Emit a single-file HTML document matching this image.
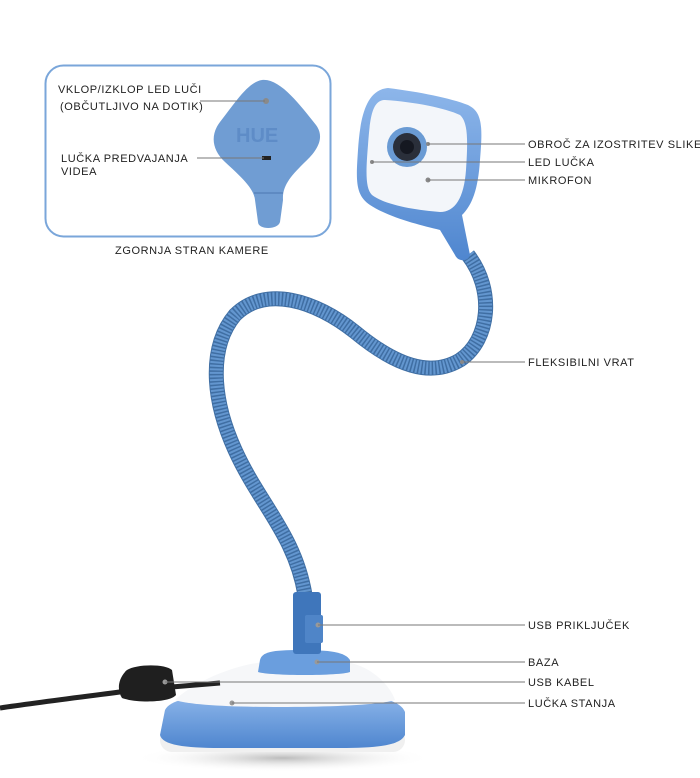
<!DOCTYPE html>
<html><head><meta charset="utf-8"><style>
body{margin:0;width:700px;height:778px;background:#fff;overflow:hidden}
svg{display:block}
text{font-family:"Liberation Sans",sans-serif;font-size:11px;fill:#222;letter-spacing:0.6px}
</style></head><body>
<svg width="700" height="778" viewBox="0 0 700 778">
<defs>
<linearGradient id="bb" x1="0" y1="0" x2="0" y2="1"><stop offset="0" stop-color="#8db6ea"/><stop offset="1" stop-color="#4f86cf"/></linearGradient>
<radialGradient id="sh" cx="0.5" cy="0.5" r="0.5"><stop offset="0" stop-color="#bbb"/><stop offset="1" stop-color="#fff" stop-opacity="0"/></radialGradient>
</defs>
<!-- inset -->
<rect x="45.5" y="65.5" width="285" height="171" rx="18" fill="#fff" stroke="#7aa6da" stroke-width="2"/>
<path d="M262 80 C280 78 300 105 316 125 C325 137 318 150 305 162 C292 175 282 185 283 200 L280 222 C278 230 258 230 258 222 L255 200 C254 188 240 176 225 162 C212 150 210 135 220 122 C235 103 248 82 262 80Z" fill="#709dd3"/>
<line x1="254" y1="193" x2="283" y2="193" stroke="#4d78b0" stroke-width="1"/>
<text x="236" y="142" style="font-size:20px;font-weight:bold;fill:#5e8cc7;letter-spacing:0">HUE</text>
<circle cx="266" cy="101" r="3" fill="#8a8a8a"/>
<rect x="262" y="156" width="9" height="4" fill="#222"/>
<text x="58" y="93">VKLOP/IZKLOP LED LUČI</text>
<text x="60" y="110">(OBČUTLJIVO NA DOTIK)</text>
<line x1="200" y1="101" x2="265" y2="101" stroke="#777"/>
<text x="61" y="162">LUČKA PREDVAJANJA</text>
<text x="61" y="175">VIDEA</text>
<line x1="197" y1="158" x2="264" y2="158" stroke="#777"/>
<text x="115" y="254">ZGORNJA STRAN KAMERE</text>
<!-- neck -->
<path d="M468 255 C495 290 490 340 460 360 C430 378 395 365 355 332 C315 300 265 285 235 315 C210 345 210 395 235 450 C260 505 295 535 305 595" fill="none" stroke="#3f6ea3" stroke-width="15"/>
<path d="M468 255 C495 290 490 340 460 360 C430 378 395 365 355 332 C315 300 265 285 235 315 C210 345 210 395 235 450 C260 505 295 535 305 595" fill="none" stroke="#6396cf" stroke-width="13" stroke-dasharray="2 1.5"/>
<!-- head -->
<path d="M388 88 C420 92 450 98 468 105 C482 112 483 125 480 160 C478 190 472 205 462 215 L470 255 C468 262 458 262 455 255 L440 230 C420 225 390 218 370 205 C355 195 356 180 358 150 C360 120 365 90 388 88Z" fill="url(#bb)"/>
<path d="M385 100 C415 102 445 108 460 115 C468 122 468 140 466 170 C464 198 455 212 440 212 C415 210 385 205 372 195 C365 188 366 170 368 145 C370 118 372 100 385 100Z" fill="#f3f6fa"/>
<circle cx="407" cy="147" r="20" fill="#6a9bd4"/>
<circle cx="407" cy="147" r="14" fill="#2a2f3a"/>
<circle cx="407" cy="147" r="7" fill="#151821"/>
<circle cx="428" cy="144" r="2" fill="#888"/>
<circle cx="372" cy="162" r="2" fill="#888"/>
<circle cx="428" cy="180" r="2.5" fill="#888"/>
<line x1="428" y1="144" x2="525" y2="144" stroke="#777"/>
<line x1="372" y1="162" x2="525" y2="162" stroke="#777"/>
<line x1="428" y1="180" x2="525" y2="180" stroke="#777"/>
<text x="528" y="148">OBROČ ZA IZOSTRITEV SLIKE</text>
<text x="528" y="166">LED LUČKA</text>
<text x="528" y="184">MIKROFON</text>
<line x1="462" y1="362" x2="525" y2="362" stroke="#777"/>
<circle cx="462" cy="362" r="2" fill="#888"/>
<text x="528" y="366">FLEKSIBILNI VRAT</text>
<!-- base -->
<ellipse cx="283" cy="758" rx="150" ry="14" fill="url(#sh)"/>
<rect x="160" y="728" width="245" height="24" rx="12" fill="#f0f0f0"/>
<path d="M165 710 C170 700 190 696 230 695 L340 695 C380 696 400 700 405 712 L405 735 C400 745 380 748 340 748 L220 748 C185 748 162 745 160 735Z" fill="url(#bb)"/>
<path d="M175 700 C190 685 230 665 265 662 L345 662 C370 665 390 685 395 700 C380 705 330 707 280 707 C230 707 190 705 175 700Z" fill="#f6f7f9"/>
<path d="M260 660 C262 652 272 650 300 650 C330 650 345 652 350 660 L350 672 C340 676 270 676 258 672Z" fill="#6a9ede"/>
<rect x="293" y="592" width="28" height="62" rx="3" fill="#3f76bb"/>
<rect x="305" y="615" width="18" height="28" rx="2" fill="#4f85c8"/>
<circle cx="318" cy="625" r="2.5" fill="#999"/>
<circle cx="317" cy="662" r="2.5" fill="#999"/>
<circle cx="232" cy="703" r="2.5" fill="#999"/>
<!-- cable -->
<path d="M0 708 C40 702 90 696 135 690 L220 683" fill="none" stroke="#222" stroke-width="5"/>
<path d="M125 672 C130 664 165 663 172 670 L176 695 C170 703 135 703 122 698 C117 690 118 680 125 672Z" fill="#1f1f1f"/>
<circle cx="165" cy="682" r="2.5" fill="#999"/>
<line x1="318" y1="625" x2="525" y2="625" stroke="#777"/>
<line x1="317" y1="662" x2="525" y2="662" stroke="#777"/>
<line x1="165" y1="682" x2="525" y2="682" stroke="#777"/>
<line x1="232" y1="703" x2="525" y2="703" stroke="#777"/>
<text x="528" y="629">USB PRIKLJUČEK</text>
<text x="528" y="666">BAZA</text>
<text x="528" y="686">USB KABEL</text>
<text x="528" y="707">LUČKA STANJA</text>
</svg>
</body></html>
